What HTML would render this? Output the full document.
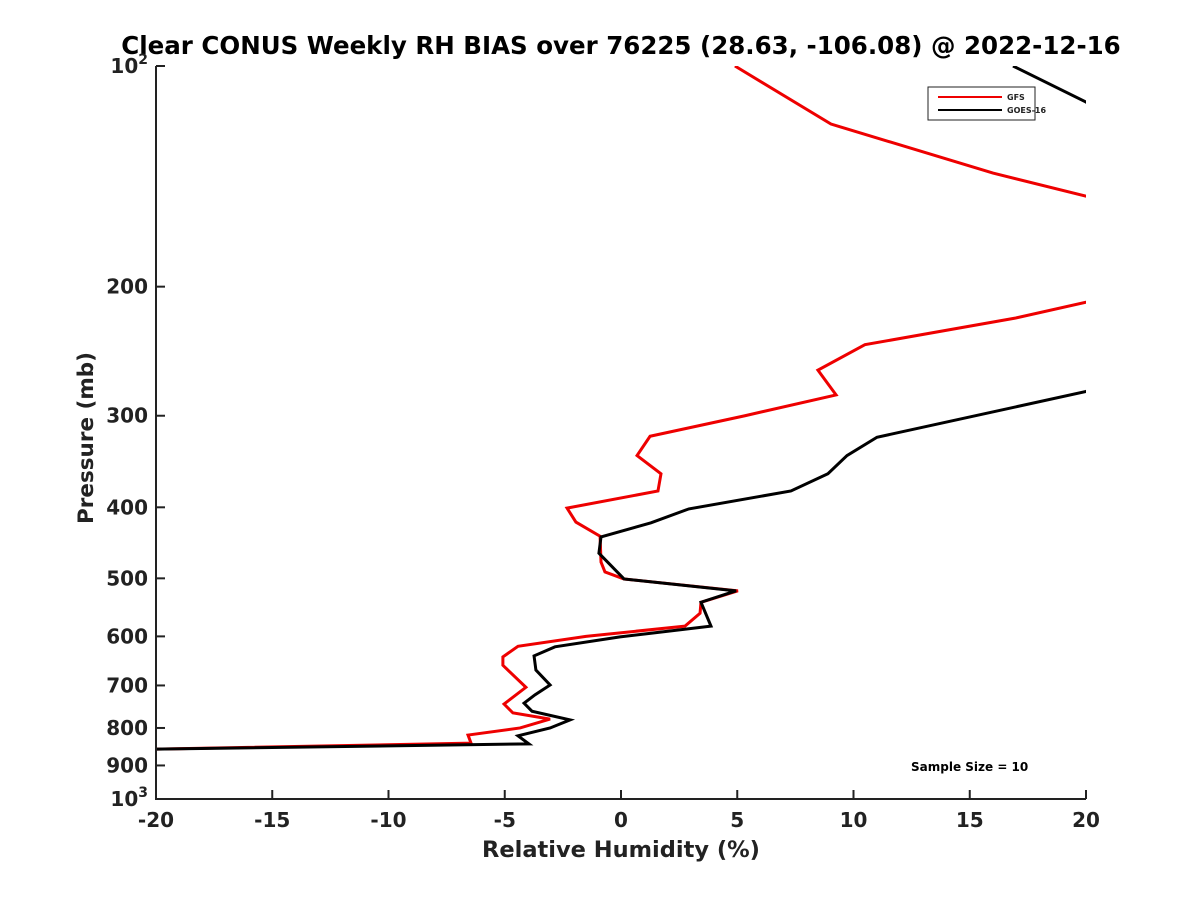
<!DOCTYPE html>
<html><head><meta charset="utf-8"><style>
body{margin:0;background:#fff;}
svg text{font-family:"DejaVu Sans","Liberation Sans",sans-serif;font-weight:bold;fill:#222;}
</style></head><body>
<svg id="chart" width="1200" height="900" xmlns="http://www.w3.org/2000/svg">
<rect width="1200" height="900" fill="#fff"/>
<text x="621" y="54" text-anchor="middle" font-size="24.5" style="fill:#000">Clear CONUS Weekly RH BIAS over 76225 (28.63, -106.08) @ 2022-12-16</text>
<g id="plot"></g>
<text x="621" y="857" text-anchor="middle" font-size="22.5">Relative Humidity (%)</text>
<text transform="translate(93,438) rotate(-90)" text-anchor="middle" font-size="21.5">Pressure (mb)</text>
<g>
<rect x="928" y="87" width="107" height="33" fill="#fff" stroke="#222" stroke-width="1"/>
<line x1="938" y1="97" x2="1002" y2="97" stroke="#e00" stroke-width="2"/>
<text x="1007" y="100" font-size="8">GFS</text>
<line x1="938" y1="110" x2="1002" y2="110" stroke="#000" stroke-width="2"/>
<text x="1007" y="113" font-size="8">GOES-16</text>
</g>
<text x="911" y="771" font-size="12" style="fill:#000">Sample Size = 10</text>
</svg>
<script>
const xTicks=[-20,-15,-10,-5,0,5,10,15,20];
const yTicks=[100,200,300,400,500,600,700,800,900,1000];
const gfsRH=[4.90,9.03,16.0,20,30,20,16.95,10.49,8.47,9.25,5.33,1.25,0.69,1.72,1.59,-2.32,-1.94,-0.90,-0.86,-0.69,0.13,5.03,3.44,3.40,2.75,-1.51,-4.43,-5.08,-5.08,-4.09,-5.03,-4.65,-3.05,-4.34,-6.58,-6.45,-20];
const gfsP=[100,120,140,150.5,175,210,220.8,240,260,281,300,320,340,360,380,401,419,438,475,490,501,520,539,558,581,600,619,640,657,704,742,763,778,800,818,839,855];
const goesRH=[16.86,20,30,20,11.01,9.72,8.90,7.31,2.92,1.29,-0.86,-0.95,0.13,4.95,3.44,3.87,-0.04,-2.84,-3.74,-3.66,-3.05,-3.70,-4.17,-3.83,-2.19,-3.05,-4.43,-3.96,-20];
const goesP=[100,112,180,278,321,340,360,380,402,420,439,462,501,520,539,581,601,620,638,667,699,721,740,759,780,800,820,841,855];
const L=156,R=1086,T=66,B=799;
const xs=v=>L+(v+20)/40*(R-L);
const ys=p=>T+(Math.log10(p)-2)*(B-T);
const NS="http://www.w3.org/2000/svg";
const g=document.getElementById('plot');
function mk(t,a){const e=document.createElementNS(NS,t);for(const k in a)e.setAttribute(k,a[k]);return e;}
const defs=mk('defs',{});const cp=mk('clipPath',{id:'clip'});cp.appendChild(mk('rect',{x:L,y:T,width:R-L,height:B-T}));defs.appendChild(cp);g.appendChild(defs);
function line(rh,p,col,name){
 const e=mk('polyline',{points:rh.map((v,i)=>xs(v)+','+ys(p[i])).join(' '),fill:'none',stroke:col,'stroke-width':3,'clip-path':'url(#clip)','stroke-linejoin':'miter'});
 
 
 g.appendChild(e);
}
line(gfsRH,gfsP,'#e00','gfs-line');
line(goesRH,goesP,'#000','goes16-line');
const ax=mk('path',{d:`M${L},${T}V${B}H${R}`,fill:'none',stroke:'#222','stroke-width':2});


g.appendChild(ax);
xTicks.forEach(v=>{
 g.appendChild(mk('line',{x1:xs(v),y1:B,x2:xs(v),y2:B-9,stroke:'#222','stroke-width':2}));
 const t=mk('text',{x:xs(v),y:B+28,'text-anchor':'middle','font-size':20});t.textContent=v;
 
 
 g.appendChild(t);
});
yTicks.forEach(p=>{
 const y=ys(p);
 g.appendChild(mk('line',{x1:L,y1:y,x2:L+9,y2:y,stroke:'#222','stroke-width':2}));
 const t=mk('text',{x:L-8,y:y+7,'text-anchor':'end','font-size':20});
 if(p===100||p===1000){t.innerHTML='10<tspan font-size="14" dy="-9">'+(p===100?2:3)+'</tspan>';}else t.textContent=p;
 
 
 g.appendChild(t);
});
</script>
</body></html>
